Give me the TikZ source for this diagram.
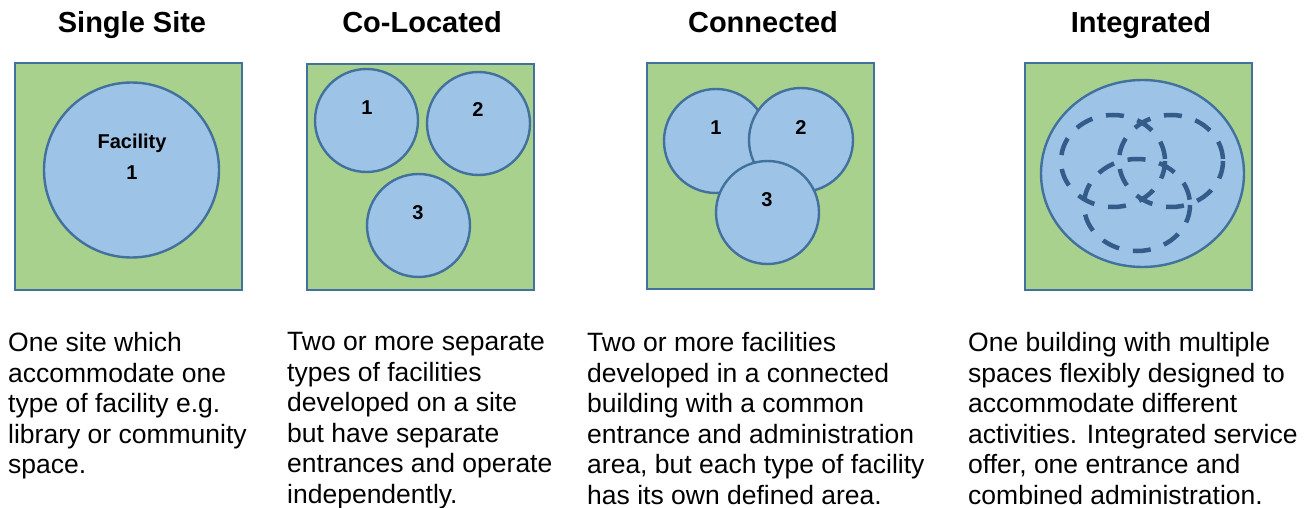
\documentclass[tikz,border=0pt]{standalone}
\usepackage{fontspec}
\setmainfont{Liberation Sans}
\definecolor{sitegreen}{HTML}{A9D18E}
\definecolor{facblue}{HTML}{9DC3E6}
\definecolor{edgeblue}{HTML}{41719C}
\definecolor{zoneblue}{HTML}{335C8A}
\tikzset{
  site/.style={draw=edgeblue, fill=sitegreen, line width=2.6pt},
  facility/.style={draw=edgeblue, fill=facblue, line width=2.4pt},
  zone/.style={draw=zoneblue, line width=4.5pt, dash pattern=on 18pt off 14pt},
  heading/.style={font=\fontsize{29}{34}\selectfont\bfseries, anchor=base, inner sep=0pt},
  numlabel/.style={font=\fontsize{20}{31}\selectfont\bfseries, align=center},
  caption/.style={font=\fontsize{26.5}{30.6}\selectfont, align=left, anchor=north west, inner sep=0pt}
}

\begin{document}
\begin{tikzpicture}[x=1pt, y=-1pt]
    \useasboundingbox (0,0) rectangle (1309,508);
    % single site
    \node[heading] (T1) at (132,33) {Single Site};
    \draw[site] (15,63) rectangle (242,290);
    \draw[facility] (131.5,170) circle (87.5);
    \node[numlabel] (F1) at (132,157) {Facility\\1};
    \node[caption] (C1) at (8,332) {One site which\\accommodate one\\type of facility e.g.\\library or community\\space.};
    % co-located
    \node[heading] (T2) at (422,33) {Co-Located};
    \draw[site] (307,64) rectangle (534,290);
    \draw[facility] (366.5,120.5) circle (51.5);
    \draw[facility] (478.5,123.5) circle (51.5);
    \draw[facility] (418.5,225.5) circle (51.5);
    \node[numlabel] (A1) at (367,108) {1};
    \node[numlabel] (A2) at (478,110) {2};
    \node[numlabel] (A3) at (418,213) {3};
    \node[caption] (C2) at (287,332) {Two or more separate\\types of facilities\\developed on a site\\but have separate\\entrances and operate\\independently.};
    % connected
    \node[heading] (T3) at (763,33) {Connected};
    \draw[site] (647,63) rectangle (874,289);
    \draw[facility] (716,141) circle (52);
    \draw[facility] (801,140) circle (52);
    \draw[facility] (767.5,212.5) circle (51.5);
    \node[numlabel] (B1) at (716,128) {1};
    \node[numlabel] (B2) at (801,128) {2};
    \node[numlabel] (B3) at (767,200) {3};
    \node[caption] (C3) at (587,332) {Two or more facilities\\developed in a connected\\building with a common\\entrance and administration\\area, but each type of facility\\has its own defined area.};
    % integrated
    \node[heading] (T4) at (1141,33) {Integrated};
    \draw[site] (1025,63) rectangle (1252,290);
    \draw[facility] (1142.5,173.5) ellipse [x radius=101.5, y radius=93.5];
    \draw[zone] (1113,161) ellipse [x radius=52, y radius=46];
    \draw[zone] (1171,161) ellipse [x radius=52, y radius=46];
    \draw[zone] (1137,205) ellipse [x radius=53, y radius=46];
    \node[caption] (C4) at (968,332) {One building with multiple\\spaces flexibly designed to\\accommodate different\\activities. Integrated service\\offer, one entrance and\\combined administration.};
\end{tikzpicture}
\end{document}
